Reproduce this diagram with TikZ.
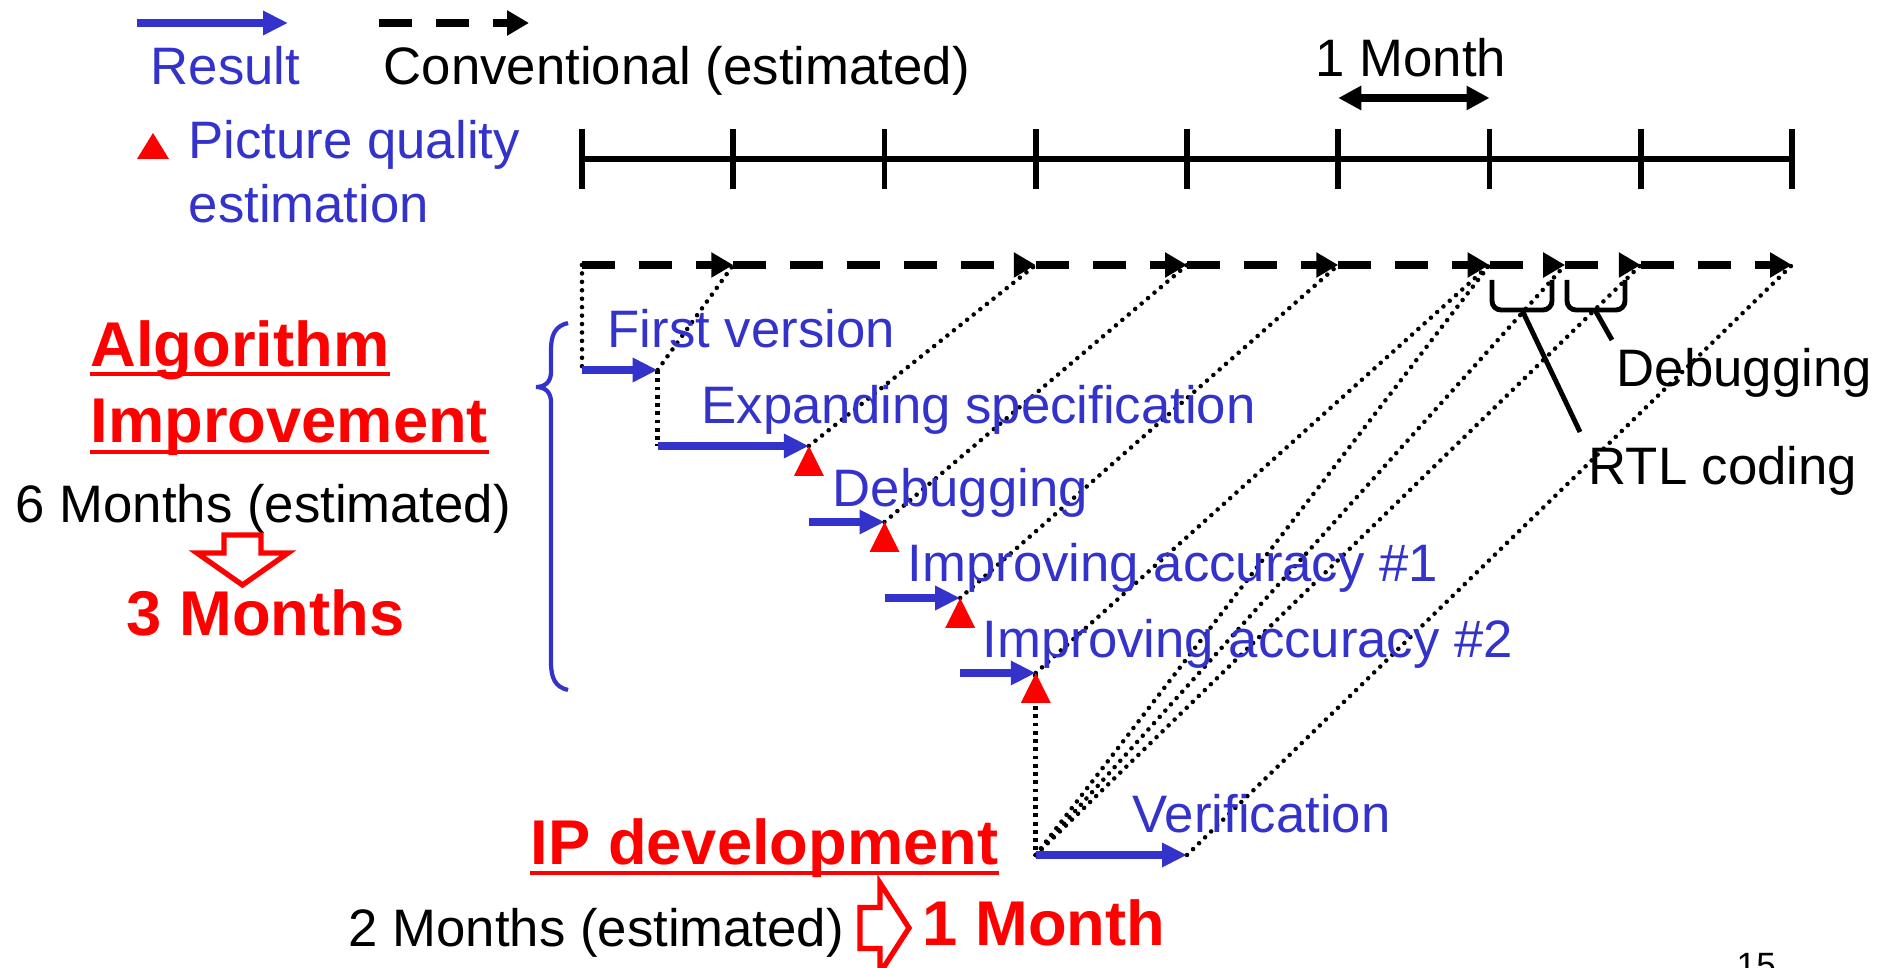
\documentclass[tikz,border=0pt]{standalone}
\usepackage{fontspec}
\setmainfont{Liberation Sans}
\usepackage{tikz}
\usetikzlibrary{arrows.meta}
\definecolor{resBlue}{HTML}{3333CC}
\definecolor{estRed}{HTML}{FF0000}

\begin{document}
\begin{tikzpicture}[
  txt/.style={anchor=base west,inner sep=0pt,font=\fontsize{15}{18}\selectfont},
  big/.style={anchor=base west,inner sep=0pt,text=estRed,font=\fontsize{18}{21}\selectfont\bfseries},
  res/.style={draw=resBlue,line width=2.2pt,-{Triangle[length=0.25cm,width=0.23cm]}},
  conv/.style={line width=2pt,dash pattern=on 0.33cm off 0.24cm,-{Triangle[length=0.22cm,width=0.24cm]}},
  guide/.style={line width=1.3pt,line cap=round,dash pattern=on 0pt off 2.4pt},
  vguide/.style={line width=1.3pt,dash pattern=on 1.1pt off 1.25pt},
  brk/.style={line width=1.4pt,rounded corners=0.09cm},
  hollow/.style={draw=estRed,line width=1.5pt,fill=white,line join=miter}]
\useasboundingbox (0,0) rectangle (18.9,-9.68);
\def\xo{5.82}
\def\mo{1.5125}
% --- legend ---
\coordinate (lbA) at (1.37,-0.23); \coordinate (lbB) at (2.88,-0.23);
\draw[res] (lbA) -- (lbB);
\coordinate (lkA) at (3.79,-0.23); \coordinate (lkB) at (5.29,-0.23);
\draw[conv] (lkA) -- (lkB);
\node[txt,text=resBlue] (tRes) at (1.50,-0.85) {Result};
\node[txt] (tConv) at (3.83,-0.85) {Conventional (estimated)};
\fill[estRed] (1.53,-1.33) -- (1.69,-1.59) -- (1.37,-1.59) -- cycle;
\node[txt,text=resBlue] (tPq) at (1.88,-1.59) {Picture quality};
\node[txt,text=resBlue] (tEst) at (1.88,-2.23) {estimation};
% --- month scale ---
\draw[line width=1.7pt] (\xo,-1.59) -- ({\xo+8*\mo},-1.59);
\foreach \k in {0,...,8} \draw[line width=1.7pt] ({\xo+\k*\mo},-1.29) -- ({\xo+\k*\mo},-1.89);
\coordinate (mA) at ({\xo+5*\mo},-0.98); \coordinate (mB) at ({\xo+6*\mo},-0.98);
\draw[line width=2pt,{Triangle[length=0.23cm,width=0.23cm]}-{Triangle[length=0.23cm,width=0.23cm]}] (mA) -- (mB);
\node[txt] (tMonth) at (13.15,-0.77) {1 Month};
% --- conventional flow ---
\foreach \i/\m in {0/0,1/1,2/3,3/4,4/5,5/6,6/6.5,7/7,8/8} \coordinate (c\i) at ({\xo+\m*\mo},-2.65);
% --- result flow ---
\foreach \i/\a/\b/\y in {1/0/0.5/-3.70,2/0.5/1.5/-4.46,3/1.5/2/-5.22,4/2/2.5/-5.98,5/2.5/3/-6.73,6/3/4/-8.55} {
  \coordinate (s\i) at ({\xo+\a*\mo},\y);
  \coordinate (e\i) at ({\xo+\b*\mo},\y);
}
\draw[guide] (c0) -- (s1);
\draw[vguide] (e1) -- (s2);
\draw[vguide] (e5) -- (s6);
\foreach \i in {1,...,5} \draw[guide] (e\i) -- (c\i);
\foreach \i in {5,6,7} \draw[guide] (s6) -- (c\i);
\draw[guide] (e6) -- (c8);
\foreach \i [count=\j] in {0,...,7} \draw[conv] (c\i) -- (c\j);
\foreach \i in {1,...,6} \draw[res] (s\i) -- (e\i);
\foreach \i in {2,...,5} \fill[estRed] (e\i) -- ++(0.15,-0.30) -- ++(-0.30,0) -- cycle;
\node[txt,text=resBlue] (lFv) at (6.07,-3.48) {First version};
\node[txt,text=resBlue] (lEs) at (7.01,-4.24) {Expanding specification};
\node[txt,text=resBlue] (lDb) at (8.32,-5.07) {Debugging};
\node[txt,text=resBlue] (lIa1) at (9.07,-5.82) {Improving accuracy \#1};
\node[txt,text=resBlue] (lIa2) at (9.82,-6.58) {Improving accuracy \#2};
\node[txt,text=resBlue] (lVf) at (11.32,-8.33) {Verification};
% --- RTL coding / debugging brackets ---
\draw[brk] (14.92,-2.80) -- (14.92,-3.10) -- (15.52,-3.10) -- (15.52,-2.80);
\draw[brk] (15.67,-2.80) -- (15.67,-3.10) -- (16.25,-3.10) -- (16.25,-2.80);
\coordinate (kR) at (15.22,-3.10); \coordinate (kRe) at (15.80,-4.32);
\coordinate (kD) at (15.95,-3.10); \coordinate (kDe) at (16.12,-3.40);
\draw[line width=1.4pt] (kR) -- (kRe);
\draw[line width=1.4pt] (kD) -- (kDe);
\node[txt] (tDbg) at (16.16,-3.87) {Debugging};
\node[txt] (tRtl) at (15.88,-4.85) {RTL coding};
% --- algorithm improvement ---
\draw[resBlue,line width=1.2pt] (5.68,-3.23) .. controls (5.55,-3.26) and (5.51,-3.35) .. (5.51,-3.50) -- (5.51,-3.72)
  .. controls (5.51,-3.82) and (5.45,-3.87) .. (5.36,-3.87) .. controls (5.45,-3.87) and (5.51,-3.92) .. (5.51,-4.02)
  -- (5.51,-6.62) .. controls (5.51,-6.78) and (5.55,-6.87) .. (5.68,-6.90);
\node[big] (tAlg) at (0.90,-3.67) {Algorithm};
\node[big] (tImp) at (0.90,-4.43) {Improvement};
\draw[estRed,line width=1.1pt] ([yshift=-0.07cm]tAlg.base west) -- ([yshift=-0.07cm]tAlg.base east);
\draw[estRed,line width=1.1pt] ([yshift=-0.09cm]tImp.base west) -- ([yshift=-0.09cm]tImp.base east);
\node[txt] (t6m) at (0.15,-5.23) {6 Months (estimated)};
\draw[hollow] (2.24,-5.35) -- (2.61,-5.35) -- (2.61,-5.53) -- (2.88,-5.53) -- (2.425,-5.85) -- (1.97,-5.53) -- (2.24,-5.53) -- cycle;
\node[big] (t3m) at (1.26,-6.36) {3 Months};
% --- IP development ---
\node[big] (tIp) at (5.30,-8.65) {IP development};
\draw[estRed,line width=1.1pt] ([yshift=-0.08cm]tIp.base west) -- ([yshift=-0.08cm]tIp.base east);
\node[txt] (t2m) at (3.48,-9.47) {2 Months (estimated)};
\draw[hollow] (8.60,-9.075) -- (8.80,-9.075) -- (8.80,-8.83) -- (9.09,-9.28) -- (8.80,-9.73) -- (8.80,-9.485) -- (8.60,-9.485) -- cycle;
\node[big] (t1m) at (9.22,-9.46) {1 Month};
\node[anchor=base west,inner sep=0pt,font=\fontsize{10}{12}\selectfont] (pg) at (17.36,-9.78) {15};
\end{tikzpicture}
\end{document}
